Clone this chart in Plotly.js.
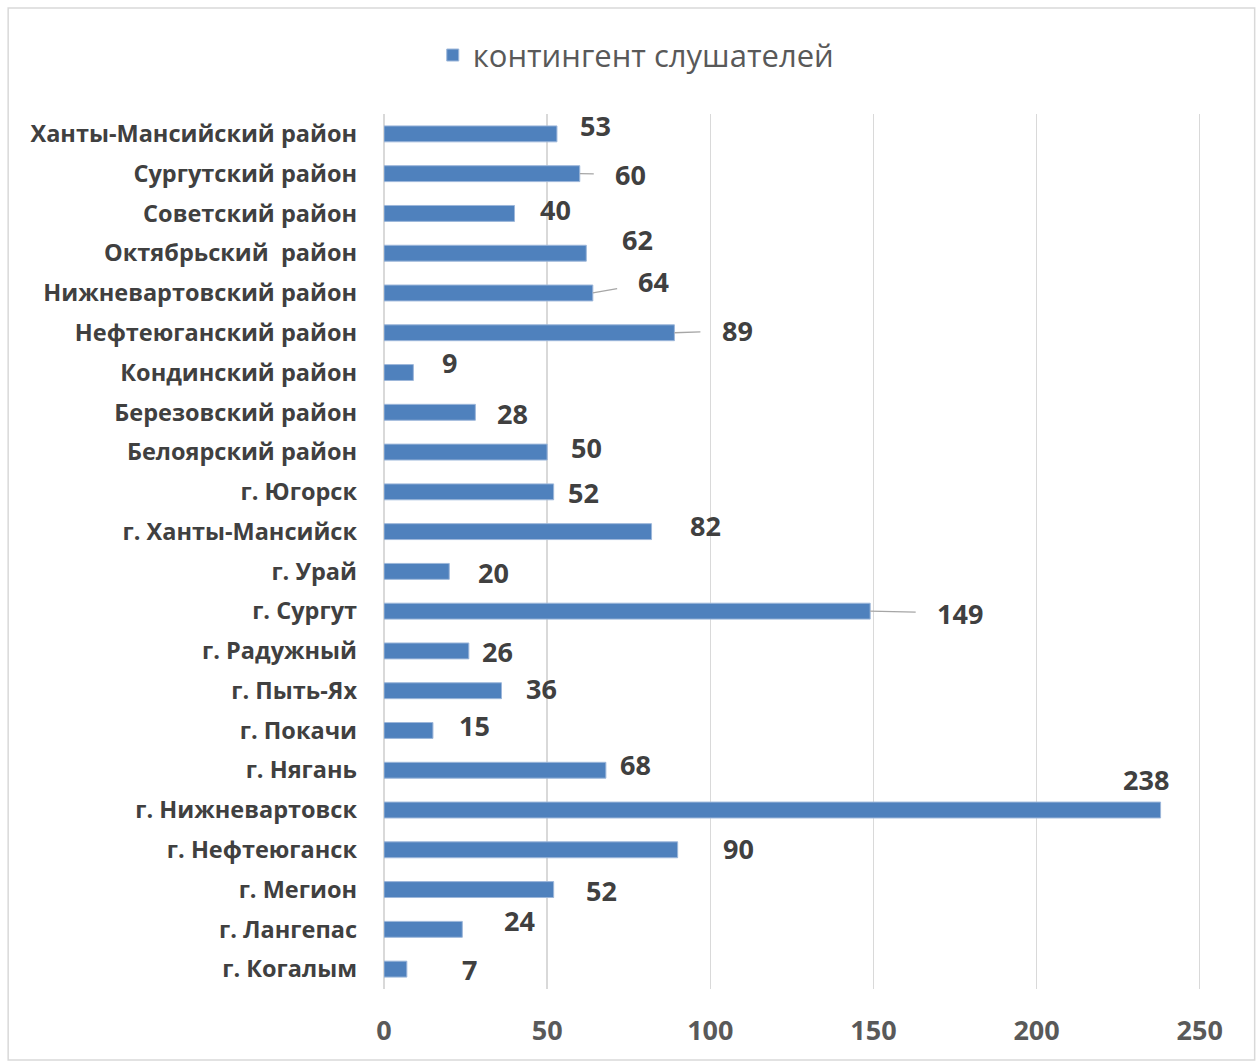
<!DOCTYPE html>
<html>
<head>
<meta charset="utf-8">
<script src="https://cdn.plot.ly/plotly-3.0.1.min.js"></script>
<style>
html,body{margin:0;padding:0;background:#fff;}
#chart{width:1259px;height:1063px;}
</style>
</head>
<body>
<div id="chart"></div>
<script>
// Categories, bottom to top as drawn
const categories = [
  "г. Когалым", "г. Лангепас", "г. Мегион", "г. Нефтеюганск", "г. Нижневартовск",
  "г. Нягань", "г. Покачи", "г. Пыть-Ях", "г. Радужный", "г. Сургут",
  "г. Урай", "г. Ханты-Мансийск", "г. Югорск", "Белоярский район", "Березовский район",
  "Кондинский район", "Нефтеюганский район", "Нижневартовский район", "Октябрьский  район",
  "Советский район", "Сургутский район", "Ханты-Мансийский район"
];
const values = [7, 24, 52, 90, 238, 68, 15, 36, 26, 149, 20, 82, 52, 50, 28, 9, 89, 64, 62, 40, 60, 53];
const seriesName = "контингент слушателей";
const xTicks = [0, 50, 100, 150, 200, 250];

// label placement offsets (pixels) relative to bar end: [dx, dy(up), leader]
const labelOffsets = [
  [63, 0, false], [57, 9, false], [48, -1, false], [61, 1, false], [-15, 31, false],
  [30, 6, false], [42, 5, false], [40, 2, false], [29, -1, false], [90, -2, true],
  [44, -1, false], [54, 6, false], [30, -1, false], [39, 5, false], [37, -1, false],
  [36, 10, false], [63, 2, true], [61, 11, true], [51, 14, false], [41, 4, false],
  [51, -1, true], [39, 8, false]
];

const textColor = "#404040";
const font = "Open Sans, Noto Sans, sans-serif";

const annotations = values.map((v, i) => {
  const [dx, dy, leader] = labelOffsets[i];
  const base = {
    x: v, y: categories[i], xref: "x", yref: "y",
    text: String(v),
    font: {family: font, size: 27, color: textColor, weight: 700},
    xanchor: "center", yanchor: "middle"
  };
  if (leader) {
    return Object.assign(base, {
      showarrow: true, arrowhead: 0, arrowwidth: 1.3, arrowcolor: "#a6a6a6",
      ax: dx, ay: -dy, standoff: 0, startstandoff: 20
    });
  }
  return Object.assign(base, {showarrow: false, xshift: dx, yshift: dy});
});

const trace = {
  type: "bar",
  orientation: "h",
  x: values,
  y: categories,
  name: seriesName,
  marker: {color: "#4F81BD", line: {color: "#9DB7DA", width: 1}},
  hoverinfo: "x+y"
};

const layout = {
  width: 1259, height: 1063,
  margin: {l: 384, r: 56, t: 114, b: 74},
  paper_bgcolor: "#fff", plot_bgcolor: "#fff",
  showlegend: true,
  legend: {
    orientation: "h", x: 0.308, xanchor: "center", y: 1.067, yanchor: "middle",
    font: {family: font, size: 31, color: "#595959"},
    itemwidth: 30
  },
  bargap: 0.6,
  xaxis: {
    range: [0, 251],
    tickvals: xTicks, ticktext: xTicks.map(String),
    showgrid: true, gridcolor: "#d9d9d9", gridwidth: 1.5,
    zeroline: true, zerolinecolor: "#d9d9d9", zerolinewidth: 1.5,
    showline: false,
    ticks: "", ticklabelstandoff: 23,
    tickfont: {family: font, size: 27, color: "#595959", weight: 700},
    fixedrange: true
  },
  yaxis: {
    type: "category",
    categoryorder: "array", categoryarray: categories,
    range: [-0.5, 21.5],
    showgrid: false, zeroline: false, showline: false,
    ticks: "", ticklabelstandoff: 26,
    tickfont: {family: font, size: 23.5, color: textColor, weight: 700},
    fixedrange: true
  },
  annotations: annotations,
  shapes: [{
    type: "rect", xref: "paper", yref: "paper",
    x0: -0.4589, x1: 1.0631, y0: -0.0811, y1: 1.1211,
    line: {color: "#d9d9d9", width: 1.5}, fillcolor: "rgba(0,0,0,0)", layer: "below"
  }]
};

Plotly.newPlot("chart", [trace], layout, {displayModeBar: false, staticPlot: true});
</script>
</body>
</html>
